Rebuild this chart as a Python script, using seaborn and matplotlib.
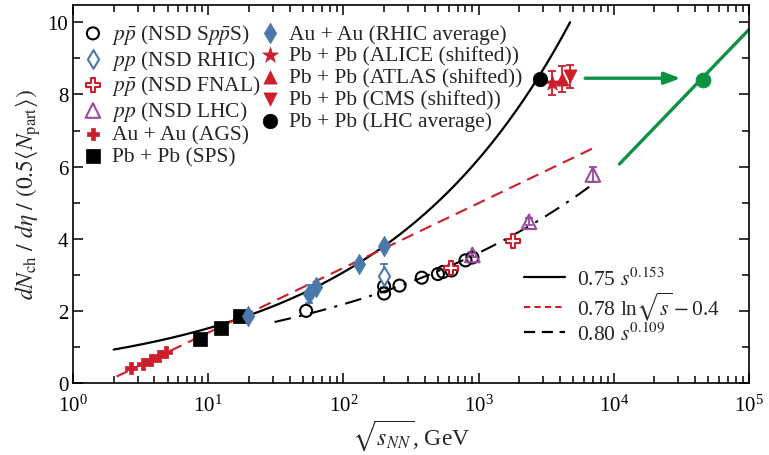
import numpy as np
import pandas as pd
import matplotlib
matplotlib.use("Agg")
import matplotlib.pyplot as plt
import seaborn as sns
from matplotlib.lines import Line2D
from matplotlib.ticker import LogLocator, MultipleLocator, NullFormatter

# --- data ---
# pp-bar (NSD SppS) open circles
sps_pp_x = [53, 200, 200, 260, 380, 500, 546, 630, 800, 900]
sps_pp_y = [2.00, 2.48, 2.68, 2.70, 2.92, 3.02, 3.08, 3.12, 3.40, 3.48]
# pp (NSD RHIC)
rhic_pp_x = [200]
rhic_pp_y = [2.98]
rhic_pp_err = [0.32]
# pp-bar (NSD FNAL)
fnal_x = [630, 1800]
fnal_y = [3.20, 3.95]
# pp (NSD LHC)
lhc_pp_x = [900, 2360, 7000]
lhc_pp_y = [3.55, 4.47, 5.78]
lhc_pp_err = [0.05, 0.10, 0.22]
# Au+Au (AGS)
ags_x = [2.7, 3.3, 3.8, 4.3, 4.9]
ags_y = [0.41, 0.53, 0.65, 0.74, 0.85]
# Pb+Pb (SPS)
spsaa_x = [8.7, 12.4, 17.3]
spsaa_y = [1.22, 1.52, 1.86]
# Au+Au (RHIC average)
rhic_aa_x = [19.6, 56, 62.4, 130, 200]
rhic_aa_y = [1.86, 2.47, 2.66, 3.30, 3.80]
rhic_aa_err = [0.0, 0.25, 0.0, 0.0, 0.0]
# Pb+Pb LHC shifted points
alice_x, alice_y, alice_err = [3470], [8.32], [0.33]
atlas_x, atlas_y, atlas_err = [4115], [8.43], [0.37]
cms_x, cms_y, cms_err = [4740], [8.50], [0.31]
lhcavg_x, lhcavg_y = [2850], [8.43]
# green extrapolation
green_dot_x, green_dot_y = [45400], [8.41]
green_line_x = [11000, 100000]
green_line_y = [6.07, 9.80]
arrow_x = [5850, 32700]
arrow_y = 8.45

# fit curves (from the legend formulas)
pow1 = (0.75, 0.153)
lnfit = (0.78, -0.4)
pow2 = (0.80, 0.109)

RED = "#cc1e2b"
BLUE = "#4a78aa"
PURPLE = "#9a4b9c"
GREEN = "#0f9145"
FS = 15.5

sns.set_theme(style="ticks")
plt.rcParams['font.family'] = ['Liberation Serif', 'DejaVu Serif']
plt.rcParams['mathtext.fontset'] = 'stix'
plt.rcParams['axes.linewidth'] = 1.2
plt.rcParams['xtick.direction'] = 'in'
plt.rcParams['ytick.direction'] = 'in'

fig = plt.figure(figsize=(7.69, 4.56), dpi=100)
ax = fig.add_axes([73/769, 1-384/456, 676/769, 378/456])

# curves
xs = np.geomspace(2.0, 4750, 300)
sns.lineplot(x=xs, y=pow1[0]*(xs**2)**pow1[1], ax=ax, color="black", lw=1.6, legend=False, zorder=2)
xs = np.geomspace(2.1, 7700, 300)
sns.lineplot(x=xs, y=lnfit[0]*np.log(xs)+lnfit[1], ax=ax, color=RED, lw=1.5,
             linestyle=(0, (6, 3.5)), legend=False, zorder=2)
xs = np.geomspace(31, 7000, 300)
sns.lineplot(x=xs, y=pow2[0]*(xs**2)**pow2[1], ax=ax, color="black", lw=1.5,
             linestyle=(0, (8, 4, 1.5, 4)), legend=False, zorder=2)
sns.lineplot(x=green_line_x, y=green_line_y, ax=ax, color=GREEN, lw=2.4, legend=False, zorder=2)
ax.annotate("", xy=(arrow_x[1], arrow_y), xytext=(arrow_x[0], arrow_y),
            arrowprops=dict(arrowstyle="-|>,head_length=0.8,head_width=0.3", color=GREEN, lw=2.4))

# error bars
def errs(x, y, e, c):
    ax.errorbar(x, y, yerr=e, fmt="none", ecolor=c, elinewidth=1.3, capsize=3, capthick=1.3, zorder=3)

errs(rhic_pp_x, rhic_pp_y, rhic_pp_err, BLUE)
errs(lhc_pp_x, lhc_pp_y, lhc_pp_err, PURPLE)
errs(rhic_aa_x, rhic_aa_y, rhic_aa_err, BLUE)
errs(alice_x, alice_y, alice_err, RED)
errs(atlas_x, atlas_y, atlas_err, RED)
errs(cms_x, cms_y, cms_err, RED)

def pts(x, y, label, marker, fc, ec, s, lw=1.5):
    sns.scatterplot(x=x, y=y, ax=ax, marker=marker, s=s, facecolor=fc, edgecolor=ec,
                    linewidth=lw, label=label, legend=False, zorder=4)
    return ax.collections[-1]

h = []
h.append(pts(sps_pp_x, sps_pp_y, r"$p\bar{p}$ (NSD S$p\bar{p}$S)", "o", "none", "black", 75))
h.append(pts(rhic_pp_x, rhic_pp_y, r"$pp$ (NSD RHIC)", "d", "white", BLUE, 90))
h.append(pts(fnal_x, fnal_y, r"$p\bar{p}$ (NSD FNAL)", "P", "white", RED, 90))
h.append(pts(lhc_pp_x, lhc_pp_y, r"$pp$ (NSD LHC)", "^", "none", PURPLE, 110))
h.append(pts(ags_x, ags_y, "Au + Au (AGS)", "P", RED, RED, 75, 0.5))
h.append(pts(spsaa_x, spsaa_y, "Pb + Pb (SPS)", "s", "black", "black", 95, 0.5))
h.append(pts(rhic_aa_x, rhic_aa_y, "Au + Au (RHIC average)", "d", BLUE, BLUE, 110, 0.5))
h.append(pts(alice_x, alice_y, "Pb + Pb (ALICE (shifted))", "*", RED, RED, 140, 0.5))
h.append(pts(atlas_x, atlas_y, "Pb + Pb (ATLAS (shifted))", "^", RED, RED, 90, 0.5))
h.append(pts(cms_x, cms_y, "Pb + Pb (CMS (shifted))", "v", RED, RED, 90, 0.5))
h.append(pts(lhcavg_x, lhcavg_y, "Pb + Pb (LHC average)", "o", "black", "black", 110, 0.5))
sns.scatterplot(x=green_dot_x, y=green_dot_y, ax=ax, s=110, color=GREEN, edgecolor=GREEN,
                legend=False, zorder=4)

ax.set_xscale("log")
ax.set_xlim(1, 1e5)
ax.set_ylim(0, 10.48)
ax.yaxis.set_major_locator(MultipleLocator(2))
ax.yaxis.set_minor_locator(MultipleLocator(1))
ax.xaxis.set_major_locator(LogLocator(base=10, numticks=10))
ax.xaxis.set_minor_locator(LogLocator(base=10, subs=np.arange(2, 10), numticks=20))
ax.xaxis.set_minor_formatter(NullFormatter())
ax.tick_params(which="both", top=True, right=True, labelsize=15, width=1.1, colors="black")
ax.tick_params(which="major", length=7)
ax.tick_params(which="minor", length=5)
ax.tick_params(axis="x", pad=8)
for sp in ax.spines.values():
    sp.set_color("black")

ax.set_xlabel(r"$\sqrt{s_{NN}}$, GeV", fontsize=17, labelpad=1)
ax.set_ylabel(r"$dN_{\rm ch}\ /\ d\eta\ /\ (0.5\langle N_{\rm part}\rangle)$", fontsize=17, labelpad=3)

leg1 = ax.legend(handles=h, loc="upper left", bbox_to_anchor=(0.0215, 0.955), ncol=2, frameon=False,
                 fontsize=FS, handlelength=0.5, handletextpad=0.63, labelspacing=0.08,
                 columnspacing=0.2, borderaxespad=0.0, borderpad=0.0)
ax.add_artist(leg1)

fit_handles = [
    Line2D([], [], color="black", lw=1.6),
    Line2D([], [], color=RED, lw=1.5, linestyle=(0, (3, 2))),
    Line2D([], [], color="black", lw=1.6, linestyle=(0, (5, 3))),
]
fit_labels = [r"0.75 $s^{0.153}$", r"0.78 ln$\sqrt{s}-$0.4", r"0.80 $s^{0.109}$"]
ax.legend(fit_handles, fit_labels, loc="lower right", bbox_to_anchor=(0.985, 0.05), frameon=False,
          fontsize=FS, handlelength=1.9, handletextpad=0.55, labelspacing=0.0)

fig.savefig("out.png", dpi=100)
